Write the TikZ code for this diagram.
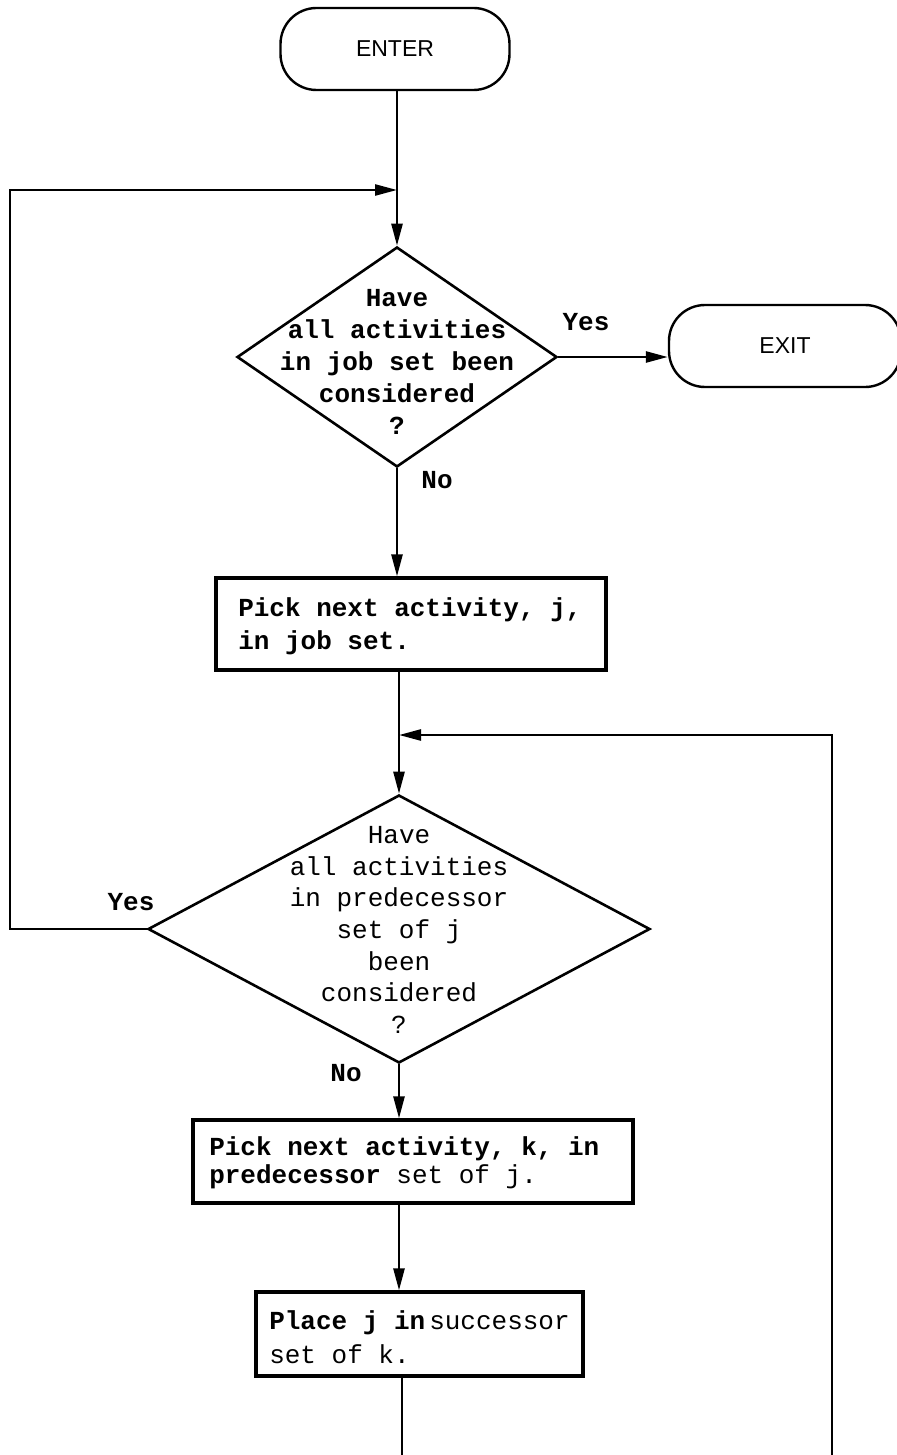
\documentclass[tikz,border=0pt]{standalone}
\usepackage{fontspec}
\setmainfont{Liberation Mono}
\newfontfamily\termfont{Liberation Sans}
\usetikzlibrary{shapes.geometric,arrows.meta}
\begin{document}
\begin{tikzpicture}[x=0.5pt,y=-0.5pt,
  line width=1.25pt,
  >={Triangle[length=11pt,width=5.5pt]},
  term/.style={draw, line width=1.2pt, rounded corners=18pt, minimum width=115pt, minimum height=41pt, inner sep=0pt,
    font=\termfont\fontsize{11.5}{14}\selectfont},
  proc/.style={draw, line width=1.6pt, inner sep=0pt},
  ptext/.style={anchor=west, align=left, inner sep=0pt},
  dia/.style={draw, diamond, line width=1.3pt, inner sep=0pt},
  dtext/.style={align=center, inner sep=0pt},
  lab/.style={font=\bfseries\fontsize{13}{15}\selectfont, inner sep=0pt}
]
\useasboundingbox (0,0) rectangle (896,1455);

% terminals
\node[term, minimum width=114.5pt] (enter) at (395,49) {ENTER};
\node[term, minimum width=116pt, minimum height=41pt] (exit) at (785,346) {EXIT};

% decision 1
\node[dia, minimum width=160pt, minimum height=110pt] (d1) at (397,357) {};
\node[dtext, font=\bfseries\fontsize{13}{16}\selectfont] (d1t) at (397,362)
  {Have\\all activities\\in job set been\\considered\\?};

% box 1
\node[proc, minimum width=195pt, minimum height=46pt] (b1) at (411,624) {};
\node[ptext, font=\bfseries\fontsize{13}{16.5}\selectfont] (b1t) at (237,626)
  {Pick next activity, j,\\in job set.};

% decision 2
\node[dia, minimum width=251pt, minimum height=134pt] (d2) at (399,929) {};
\node[dtext, font=\fontsize{13}{15.8}\selectfont] (d2t) at (399,930)
  {Have\\all activities\\in predecessor\\set of j\\been\\considered\\?};

% box 2
\node[proc, minimum width=220pt, minimum height=41.5pt] (b2) at (413,1161.5) {};
\node[ptext, font=\fontsize{13}{14.2}\selectfont] (b2t) at (208,1163)
  {\textbf{Pick next activity, k, in}\\\textbf{predecessor} set of j.};

% box 3
\node[proc, minimum width=163.5pt, minimum height=42pt] (b3) at (419.5,1334) {};
\node[ptext, font=\fontsize{13}{17}\selectfont] (b3t) at (268,1337)
  {\textbf{Place j in}\hspace{2pt}successor\\set of k.};

% labels
\node[lab] (yes1) at (586,322) {Yes};
\node[lab] (no1) at (437,480) {No};
\node[lab] (yes2) at (131,902) {Yes};
\node[lab] (no2) at (346,1073) {No};

% helper coordinates
\coordinate (J1) at (397,190);
\coordinate (LX) at (10,190);
\coordinate (J2) at (399,735);
\coordinate (RX) at (832,735);
\coordinate (BT) at (402,1457);

% connectors
\draw[->] (enter.south -| d1.north) -- (d1.north);
\draw[->] (d1.east) -- (d1.east -| exit.west);
\draw[->] (d1.south) -- (d1.south |- b1.north);
\draw[->] (d2.north |- b1.south) -- (d2.north);
\draw[->] (d2.south) -- (d2.south |- b2.north);
\draw[->] (d2.south |- b2.south) -- (d2.south |- b3.north);
\draw[->] (d2.west) -| (LX) -- (J1);
\draw[->] (BT |- b3.south) -- (BT) -| (RX) -- (J2);
\end{tikzpicture}
\end{document}
